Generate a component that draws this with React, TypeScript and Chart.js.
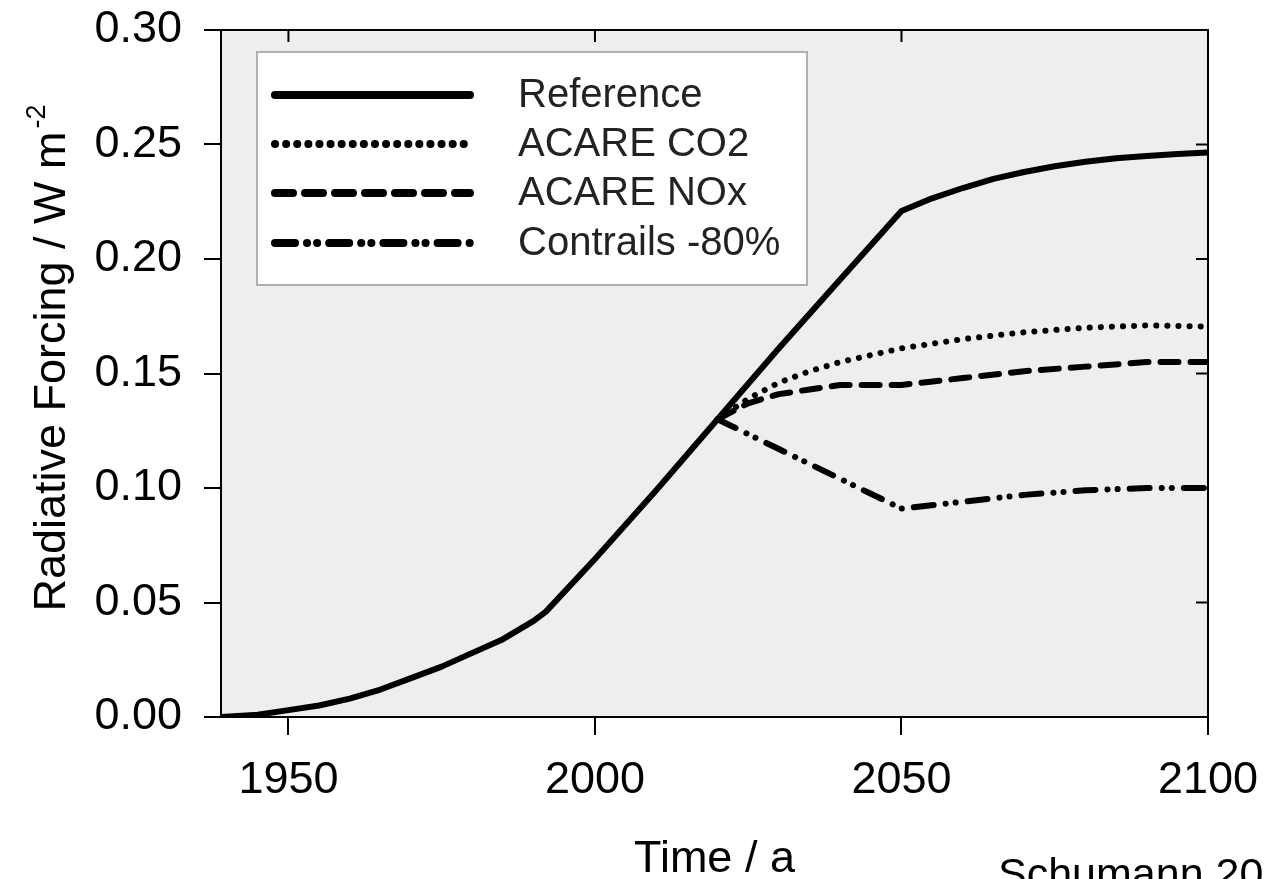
import React, { useEffect, useRef } from "react";
import { Chart, registerables } from "chart.js";

Chart.register(...registerables);

// ---------- data ----------
const REF_YEARS = [1939, 1945, 1950, 1955, 1960, 1965, 1970, 1975, 1980, 1985, 1990, 1992, 2000, 2010, 2020, 2030, 2040, 2050, 2055, 2060, 2065, 2070, 2075, 2080, 2085, 2090, 2095, 2100];
const REF_VALUES = [0, 0.001, 0.003, 0.005, 0.008, 0.012, 0.017, 0.022, 0.028, 0.034, 0.042, 0.046, 0.069, 0.099, 0.130, 0.161, 0.191, 0.221, 0.2265, 0.231, 0.235, 0.238, 0.2405, 0.2425, 0.244, 0.245, 0.2458, 0.2465];

const SCEN_YEARS = [2020, 2025, 2030, 2035, 2040, 2045, 2050, 2060, 2070, 2080, 2090, 2100];
const CO2_VALUES = [0.130, 0.139, 0.146, 0.151, 0.155, 0.158, 0.161, 0.165, 0.168, 0.170, 0.171, 0.1705];
const NOX_VALUES = [0.130, 0.137, 0.141, 0.143, 0.145, 0.145, 0.145, 0.148, 0.151, 0.153, 0.155, 0.155];
const CONTRAIL_VALUES = [0.130, 0.1235, 0.117, 0.1105, 0.104, 0.0975, 0.091, 0.094, 0.097, 0.099, 0.100, 0.100];

const SERIES_LABELS = ["Reference", "ACARE CO2", "ACARE NOx", "Contrails -80%"];
const X_TICKS = [1950, 2000, 2050, 2100];
const Y_TICKS = [0, 0.05, 0.1, 0.15, 0.2, 0.25, 0.3];
const X_TITLE = "Time / a";
const Y_TITLE = "Radiative Forcing / W m";
const Y_TITLE_SUP = "-2";
const CREDIT = "Schumann 20";

// ---------- styles ----------
const FONT = "'Liberation Sans', Arial, Helvetica, sans-serif";
const DASHES: number[][] = [[], [0.1, 11], [18, 12], [20, 12, 0.1, 10, 0.1, 12]];
const WIDTHS = [6, 6, 6, 6];

const toPoints = (xs: number[], ys: number[]) => xs.map((x, i) => ({ x, y: ys[i] }));

const zeroPad = (s: any) => {
  s.paddingTop = 0;
  s.paddingBottom = 0;
  s.paddingLeft = 0;
  s.paddingRight = 0;
};

const decorPlugin = {
  id: "decor",
  beforeDraw(chart: any) {
    const { ctx, chartArea: a } = chart;
    ctx.save();
    ctx.fillStyle = "#ffffff";
    ctx.fillRect(0, 0, chart.width, chart.height);
    ctx.fillStyle = "#eeeeee";
    ctx.fillRect(a.left, a.top, a.right - a.left, a.bottom - a.top);
    ctx.restore();
  },
  afterDatasetsDraw(chart: any) {
    const { ctx, chartArea: a, scales } = chart;
    ctx.save();
    ctx.strokeStyle = "#000";
    ctx.lineWidth = 2;
    ctx.strokeRect(a.left, a.top, a.right - a.left, a.bottom - a.top);
    ctx.beginPath();
    X_TICKS.forEach((v) => {
      const x = scales.x.getPixelForValue(v);
      ctx.moveTo(x, a.top);
      ctx.lineTo(x, a.top + 12);
    });
    Y_TICKS.forEach((v) => {
      const y = scales.y.getPixelForValue(v);
      ctx.moveTo(a.right, y);
      ctx.lineTo(a.right - 12, y);
    });
    ctx.stroke();
    ctx.restore();
  },
  afterDraw(chart: any) {
    const { ctx, chartArea: a } = chart;
    ctx.save();
    // legend box
    const bx = 257, by = 52, bw = 550, bh = 233;
    ctx.fillStyle = "#ffffff";
    ctx.fillRect(bx, by, bw, bh);
    ctx.strokeStyle = "#b0b0b0";
    ctx.lineWidth = 2;
    ctx.strokeRect(bx, by, bw, bh);
    const rows = [95, 144, 193, 243];
    chart.data.datasets.forEach((ds: any, i: number) => {
      const y = rows[i];
      ctx.strokeStyle = "#000";
      ctx.lineWidth = ds.borderWidth + 2;
      ctx.lineCap = "round";
      ctx.setLineDash(ds.borderDash || []);
      ctx.beginPath();
      ctx.moveTo(275, y);
      ctx.lineTo(470, y);
      ctx.stroke();
      ctx.setLineDash([]);
      ctx.fillStyle = "#222";
      ctx.font = `40px ${FONT}`;
      ctx.textBaseline = "middle";
      ctx.textAlign = "left";
      ctx.fillText(ds.label, 518, y + 1);
    });
    // x title
    ctx.fillStyle = "#000";
    ctx.font = `45px ${FONT}`;
    ctx.textAlign = "center";
    ctx.textBaseline = "alphabetic";
    ctx.fillText(X_TITLE, (a.left + a.right) / 2, 872);
    // y title (rotated, with superscript)
    ctx.save();
    ctx.translate(65, 358);
    ctx.rotate(-Math.PI / 2);
    ctx.font = `45px ${FONT}`;
    const w1 = ctx.measureText(Y_TITLE).width;
    ctx.font = `27px ${FONT}`;
    const w2 = ctx.measureText(Y_TITLE_SUP).width;
    const start = -(w1 + w2 + 3) / 2;
    ctx.textAlign = "left";
    ctx.font = `45px ${FONT}`;
    ctx.fillText(Y_TITLE, start, 0);
    ctx.font = `27px ${FONT}`;
    ctx.fillText(Y_TITLE_SUP, start + w1 + 3, -20);
    ctx.restore();
    // credit
    ctx.font = `43px ${FONT}`;
    ctx.textAlign = "left";
    ctx.fillStyle = "#000";
    ctx.fillText(CREDIT, 998, 888);
    ctx.restore();
  },
};

export default function App() {
  const canvasRef = useRef<HTMLCanvasElement | null>(null);

  useEffect(() => {
    const canvas = canvasRef.current;
    if (!canvas) return;
    const mk = (i: number, pts: any[]) => ({
      label: SERIES_LABELS[i],
      data: pts,
      borderColor: "#000",
      backgroundColor: "#000",
      borderWidth: WIDTHS[i],
      borderDash: DASHES[i],
      borderCapStyle: "round",
      borderJoinStyle: "round",
      pointRadius: 0,
      tension: 0,
      fill: false,
    });
    const chart = new Chart(canvas, {
      type: "line",
      data: {
        datasets: [
          mk(0, toPoints(REF_YEARS, REF_VALUES)),
          mk(1, toPoints(SCEN_YEARS, CO2_VALUES)),
          mk(2, toPoints(SCEN_YEARS, NOX_VALUES)),
          mk(3, toPoints(SCEN_YEARS, CONTRAIL_VALUES)),
        ] as any,
      },
      options: {
        animation: false,
        responsive: false,
        devicePixelRatio: 1,
        layout: { padding: { top: 30, right: 57, bottom: 0, left: 0 } },
        plugins: { legend: { display: false }, tooltip: { enabled: false } },
        scales: {
          x: {
            type: "linear",
            min: 1939,
            max: 2100,
            afterBuildTicks: (s: any) => {
              s.ticks = X_TICKS.map((v) => ({ value: v }));
            },
            afterFit: (s: any) => {
              s.height = 162;
              zeroPad(s);
            },
            ticks: {
              color: "#000",
              font: { family: FONT, size: 45 },
              padding: 19,
              maxRotation: 0,
              autoSkip: false,
              callback: (v: any) => String(v),
            },
            grid: { display: true, drawOnChartArea: false, drawTicks: true, tickLength: 18, color: "#000", lineWidth: 2 },
            border: { display: true, color: "#000", width: 2 },
          },
          y: {
            type: "linear",
            min: 0,
            max: 0.3,
            afterBuildTicks: (s: any) => {
              s.ticks = Y_TICKS.map((v) => ({ value: v }));
            },
            afterFit: (s: any) => {
              s.width = 221;
              zeroPad(s);
            },
            ticks: {
              color: "#000",
              font: { family: FONT, size: 45 },
              padding: 22,
              autoSkip: false,
              callback: (v: any) => Number(v).toFixed(2),
            },
            grid: { display: true, drawOnChartArea: false, drawTicks: true, tickLength: 17, color: "#000", lineWidth: 2 },
            border: { display: true, color: "#000", width: 2 },
          },
        },
      } as any,
      plugins: [decorPlugin],
    });
    return () => chart.destroy();
  }, []);

  return (
    <div style={{ position: "fixed", left: 0, top: 0, width: 1265, height: 879, overflow: "hidden", background: "#fff" }}>
      <canvas ref={canvasRef} width={1265} height={879} style={{ display: "block", width: 1265, height: 879 }} />
    </div>
  );
}
